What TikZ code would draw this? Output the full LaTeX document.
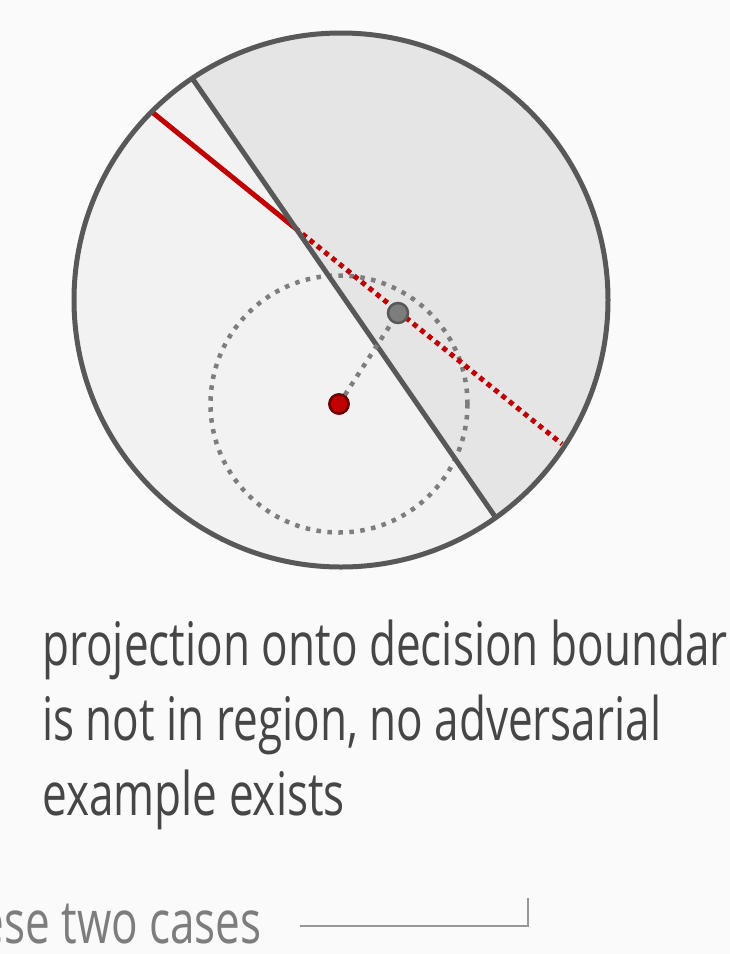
\documentclass[tikz,border=0pt]{standalone}
\usepackage{fontspec}
\setmainfont{Open Sans}[FakeStretch=0.735]
\usepackage{tikz}
\usetikzlibrary{positioning,calc}
\definecolor{fondo}{RGB}{250,250,250}
\definecolor{borde}{RGB}{88,88,88}
\definecolor{regionclara}{RGB}{242,242,242}
\definecolor{regionoscura}{RGB}{229,229,229}
\definecolor{rojo}{RGB}{192,0,0}
\definecolor{rojooscuro}{RGB}{110,0,0}
\definecolor{gristexto}{RGB}{70,70,70}
\definecolor{grisclaro}{RGB}{125,125,125}

\begin{document}
\begin{tikzpicture}[x=1pt, y=-1pt,
  limite/.style={draw=borde, line width=5pt},
  frontera/.style={draw=rojo, line width=5pt},
  punteado/.style={draw=grisclaro, line width=4.5pt, dash pattern=on 4.5pt off 6.5pt},
  punto/.style={circle, draw=#1, line width=2.5pt, minimum size=19pt, inner sep=0pt},
  texto/.style={font=\fontsize{60}{75}\selectfont, inner sep=0pt, align=left}
]
% Fondo
\fill[fondo] (0,0) rectangle (730,954);
\useasboundingbox (0,0) rectangle (730,954);
% Region
\coordinate (c) at (341,300);
\fill[regionclara] (c) circle[radius=267];
\begin{scope}
  \clip (c) circle[radius=267];
  \fill[regionoscura] (109,-42) -- (600,668) -- (800,668) -- (800,-42) -- cycle;
\end{scope}
% Bola alrededor del punto
\node[punto=rojooscuro, fill=rojo] (x0) at (339,404) {};
\draw[punteado] (x0.center) circle[radius=128.5];
% Frontera de decision
\coordinate (r1) at (152,112);
\coordinate (r2) at (295,228);
\coordinate (r3) at (562,444);
\draw[frontera] (r1) -- (r2);
\draw[frontera, dash pattern=on 5pt off 4.5pt] (r2) -- (r3);
% Limite
\coordinate (b1) at (192,78);
\coordinate (b2) at (496,518);
\draw[limite] (b1) -- (b2);
\draw[limite] (c) circle[radius=267];
% Proyeccion
\node[punto=borde, fill=grisclaro, minimum size=20pt] (xp) at (398,313) {};
\draw[punteado] (x0) -- (xp);
\node[punto=rojooscuro, fill=rojo] at (x0) {};
% Textos
\node[texto, text=gristexto, anchor=base west] (nota) at (42,815)
  {projection onto decision boundar\\is not in region, no adversarial\\example exists};
\node[texto, text=grisclaro, anchor=base east] (casos) at (262,943) {ese two cases};
\coordinate (g1) at (300,926);
\coordinate (g2) at (528,926);
\coordinate (g3) at (528,898);
\draw[draw=grisclaro!80, line width=2pt] (g1) -- (g2) -- (g3);
\end{tikzpicture}
\end{document}
